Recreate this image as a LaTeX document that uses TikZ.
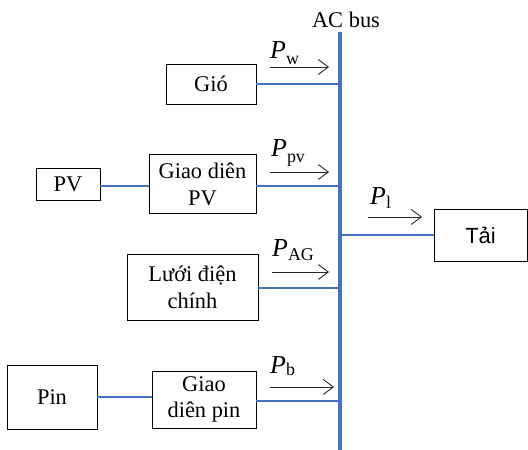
\documentclass[tikz,border=0pt]{standalone}
\usepackage{fontspec}
\setmainfont{Liberation Serif}
\newfontfamily\sansfam{Liberation Sans}
\usetikzlibrary{arrows.meta}
\definecolor{busblue}{RGB}{68,114,196}
\newcommand{\pflow}[2]{{\fontsize{26}{26}\selectfont\itshape P}\raisebox{-#2}{\fontsize{18}{18}\selectfont #1}}

\begin{document}
\begin{tikzpicture}[x=1bp,y=-1bp,
  box/.style={draw=black, line width=0.9bp, inner sep=0pt, align=center,
    font=\fontsize{22.5}{27}\selectfont},
  link/.style={draw=busblue, line width=2.8bp},
  bus/.style={draw=busblue, line width=4.2bp},
  flow/.style={-{Straight Barb[length=10bp,width=15bp,line width=0.9bp]}, line width=0.9bp, draw=black!85},
  plabel/.style={anchor=base west, inner sep=0pt},
]
\useasboundingbox (0,0) rectangle (528,450);

% AC bus bar
\coordinate (bustop) at (340,32);
\coordinate (busbot) at (340,450);
\draw[bus] (bustop) -- (busbot);
\node[anchor=base, inner sep=0pt, font=\fontsize{22.5}{27}\selectfont] (buslabel) at (346,28) {AC bus};

% Sources, interfaces and load
\node[box, minimum width=90bp, minimum height=40bp] (gio) at (211,84) {Gió};
\node[box, minimum width=64bp, minimum height=32bp] (pv) at (68,184) {PV};
\node[box, minimum width=107bp, minimum height=59bp] (gpv) at (202.5,184) {Giao diên\\PV};
\node[box, minimum width=131bp, minimum height=66bp] (grid) at (192.5,287) {Lưới điện\\chính};
\node[box, minimum width=90bp, minimum height=64bp] (pin) at (52,397) {Pin};
\node[box, minimum width=104bp, minimum height=57bp] (gpin) at (204,399.5) {Giao\\diên pin};
\node[box, minimum width=93bp, minimum height=52bp, font=\sansfam\fontsize{22}{26}\selectfont] (load) at (480.5,235) {Tải};

% Links to the bus
\draw[link] (gio.east |- 0,84) -- (bustop |- 0,84);
\draw[link] (pv.east |- 0,186) -- (gpv.west |- 0,186);
\draw[link] (gpv.east |- 0,186) -- (bustop |- 0,186);
\draw[link] (grid.east |- 0,288) -- (bustop |- 0,288);
\draw[link] (pin.east |- 0,397) -- (gpin.west |- 0,397);
\draw[link] (gpin.east |- 0,401) -- (bustop |- 0,401);
\draw[link] (bustop |- 0,235) -- (load.west |- 0,235);

% Power flow arrows
\coordinate (wA) at (270,67);  \coordinate (wB) at (329,67);
\coordinate (pvA) at (270,172); \coordinate (pvB) at (329,172);
\coordinate (agA) at (272,272); \coordinate (agB) at (329,272);
\coordinate (bA) at (270,387); \coordinate (bB) at (334,387);
\coordinate (lA) at (368,217); \coordinate (lB) at (422,217);
\draw[flow] (wA) -- (wB);
\draw[flow] (pvA) -- (pvB);
\draw[flow] (agA) -- (agB);
\draw[flow] (bA) -- (bB);
\draw[flow] (lA) -- (lB);

\node[plabel] (pw) at (270,59) {\pflow{w}{6bp}};
\node[plabel] (ppv) at (271,157) {\pflow{pv}{6bp}};
\node[plabel] (pag) at (272,257) {\pflow{AG}{4bp}};
\node[plabel] (pb) at (270,373) {\pflow{b}{2bp}};
\node[plabel] (pl) at (370,205) {\pflow{l}{4bp}};
\end{tikzpicture}
\end{document}
